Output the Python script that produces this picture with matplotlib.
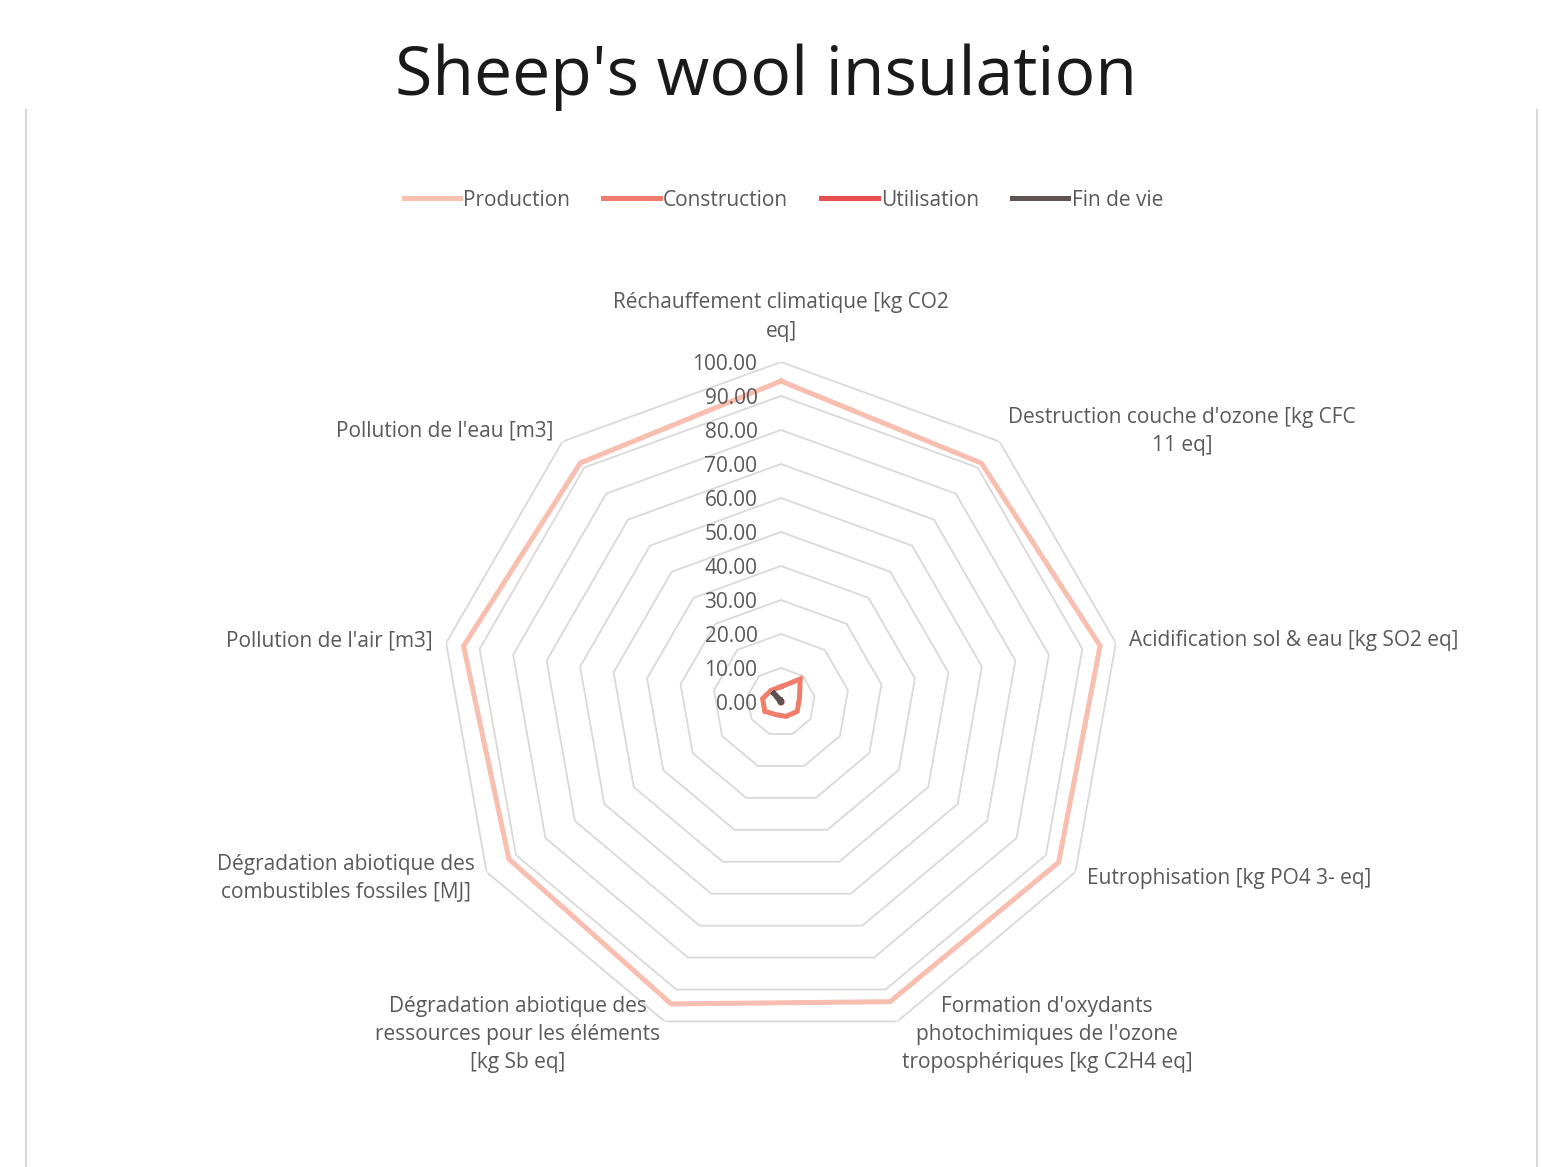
import numpy as np
import matplotlib.pyplot as plt
from matplotlib.lines import Line2D

categories = [
    "Réchauffement climatique [kg CO2\neq]",
    "Destruction couche d'ozone [kg CFC\n11 eq]",
    "Acidification sol & eau [kg SO2 eq]",
    "Eutrophisation [kg PO4 3- eq]",
    "Formation d'oxydants\nphotochimiques de l'ozone\ntroposphériques [kg C2H4 eq]",
    "Dégradation abiotique des\nressources pour les éléments\n[kg Sb eq]",
    "Dégradation abiotique des\ncombustibles fossiles [MJ]",
    "Pollution de l'air [m3]",
    "Pollution de l'eau [m3]",
]
production = [94.4, 91.7, 95.3, 94.3, 93.8, 94.5, 92.4, 94.8, 91.8]
construction = [4.5, 8.8, 5.5, 5.5, 4.5, 4.0, 5.5, 5.5, 4.5]
utilisation = [0.3, 0.3, 0.3, 0.3, 0.3, 0.3, 0.3, 0.3, 0.3]
fin_de_vie = [0.5, 0.2, 0.2, 0.2, 0.2, 0.2, 0.2, 0.2, 4.0]
ticks = [0, 10, 20, 30, 40, 50, 60, 70, 80, 90, 100]

series = [
    ("Production", production, "#f8bfb0"),
    ("Construction", construction, "#f07c6c"),
    ("Utilisation", utilisation, "#e9504d"),
    ("Fin de vie", fin_de_vie, "#5f534f"),
]

plt.rcParams['font.family'] = ['Open Sans', 'DejaVu Sans']
txt = '#595959'
grid = '#d9d9d9'
fs = 15

W, H = 1542, 1167
fig = plt.figure(figsize=(W / 100, H / 100), dpi=100)
cx, cy, R = 781, 702, 340
ax = fig.add_axes([(cx - R) / W, (H - cy - R) / H, 2 * R / W, 2 * R / H], projection='polar')
ax.set_theta_zero_location('N')
ax.set_theta_direction(-1)
ax.set_ylim(0, 100)
ax.axis('off')

n = len(categories)
theta = np.linspace(0, 2 * np.pi, n, endpoint=False)
tc = np.append(theta, theta[0])

# polygon gridlines
for t in ticks[1:]:
    ax.plot(tc, [t] * (n + 1), color=grid, lw=1.3, zorder=1)

for name, vals, col in series:
    ax.plot(tc, vals + vals[:1], color=col, lw=3.6, solid_joinstyle='miter', zorder=3)

for t in ticks:
    ax.annotate(f"{t:.2f}", xy=(0, t), xytext=(-17, -1.5), textcoords='offset points',
                ha='right', va='center', fontsize=fs, color=txt, zorder=4)

for th, lab in zip(theta, categories):
    deg = np.degrees(th)
    if deg < 1:
        ax.text(th, 106, lab, ha='center', va='bottom', fontsize=fs, color=txt,
                multialignment='center', linespacing=1.45)
    else:
        ha = 'left' if deg < 180 else 'right'
        ax.text(th, 104, lab, ha=ha, va='center', fontsize=fs, color=txt,
                multialignment='center', linespacing=1.45)

fig.text(0.497, 0.934, "Sheep's wool insulation", ha='center', va='center',
         fontsize=49, color='#1a1a1a')

# chart frame sides
for x in (26, 1537):
    fig.add_artist(Line2D([x / W, x / W], [0, (H - 110) / H], color=grid, lw=1.5))

handles = [Line2D([], [], color=c, lw=3.6) for _, _, c in series]
fig.legend(handles, [s[0] for s in series], loc='center', bbox_to_anchor=(0.508, 1 - 200 / H),
           ncol=4, frameon=False, fontsize=fs, handlelength=2.7, handletextpad=0.15,
           columnspacing=1.6, labelcolor=txt)

fig.savefig('out.png', dpi=100)
